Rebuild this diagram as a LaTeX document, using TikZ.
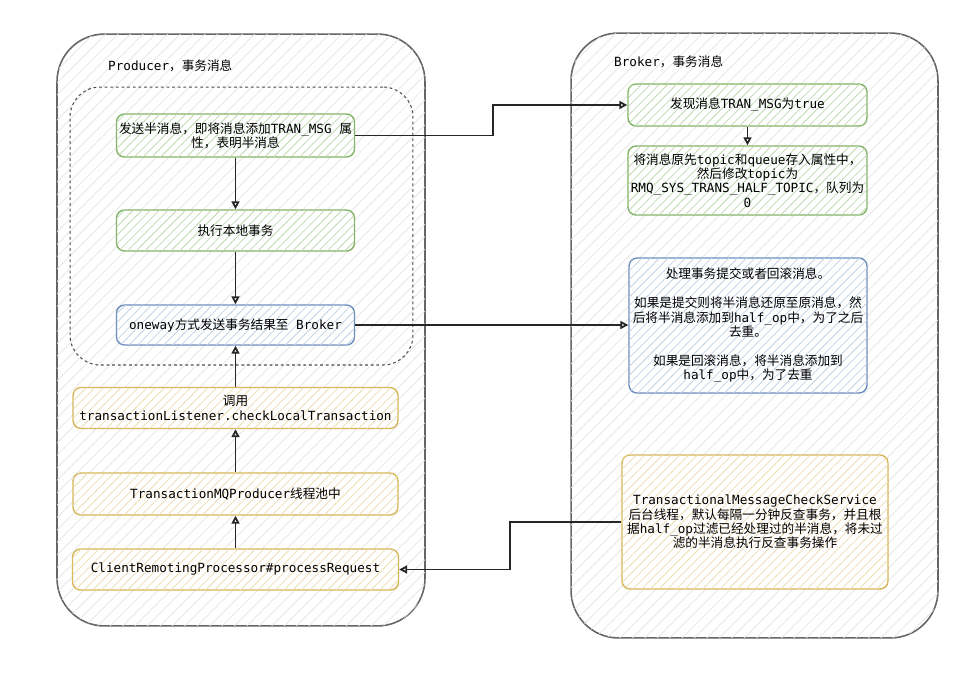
\documentclass[tikz,border=0pt]{standalone}
\usepackage{fontspec}
\setmainfont{DejaVu Sans Mono}
\newfontfamily\cjkfont{Noto Sans CJK SC}
\newcommand{\cn}[1]{{\cjkfont #1}}
\usepackage{xcolor}
\usetikzlibrary{arrows.meta,positioning,patterns.meta}

\definecolor{greenline}{HTML}{82B366}
\definecolor{blueline}{HTML}{6C8EBF}
\definecolor{yellowline}{HTML}{D6B656}
\definecolor{frameline}{HTML}{666666}

\begin{document}
\begin{tikzpicture}[
  x=0.02cm, y=-0.02cm,
  font=\fontsize{7.2}{8.2}\selectfont,
  frame/.style={rectangle, draw=frameline, line width=0.9pt, rounded corners=0.95cm,
    fill=white, postaction={pattern={Lines[angle=45,distance=5pt,line width=0.4pt]},
    pattern color=black!10}},
  stepbox/.style={rectangle, rounded corners=0.16cm, line width=0.8pt, align=center,
    inner sep=1pt, fill=white},
  greenbox/.style={stepbox, draw=greenline, postaction={pattern={Lines[angle=45,distance=3.5pt,line width=0.45pt]},
    pattern color=greenline!50}},
  bluebox/.style={stepbox, draw=blueline, postaction={pattern={Lines[angle=45,distance=3.5pt,line width=0.45pt]},
    pattern color=blueline!40}},
  yellowbox/.style={stepbox, draw=yellowline, postaction={pattern={Lines[angle=45,distance=3.5pt,line width=0.45pt]},
    pattern color=yellowline!45}},
  flow/.style={-{Triangle[open,length=4.5pt,width=4.5pt]}, line width=1pt, black!85}
]
  \useasboundingbox (0,0) rectangle (974,674);

  % the two sides
  \node[frame, minimum width=7.36cm, minimum height=11.84cm] (prod) at (241,330) {};
  \node[frame, minimum width=7.34cm, minimum height=12.10cm] (brok) at (754.5,335.5) {};
  \node[rectangle, draw=black!70, dash pattern=on 1.6pt off 1.6pt, line width=0.6pt,
    rounded corners=0.6cm, minimum width=6.86cm, minimum height=5.56cm] (local) at (241.5,226) {};

  \node[anchor=west] (ptitle) at (102,66) {Producer\cn{，事务消息}};
  \node[anchor=west] (btitle) at (608,62) {Broker\cn{，事务消息}};

  % Producer side
  \node[greenbox, minimum width=4.76cm, minimum height=0.86cm] (half) at (235.5,135.5)
    {\cn{发送半消息，即将消息添加}TRAN\_MSG \cn{属}\\\cn{性，表明半消息}};
  \node[greenbox, minimum width=4.76cm, minimum height=0.82cm] (exec) at (235.5,230.5)
    {\cn{执行本地事务}};
  \node[bluebox, minimum width=4.76cm, minimum height=0.80cm] (oneway) at (235.5,325)
    {oneway\cn{方式发送事务结果至} Broker};
  \node[yellowbox, minimum width=6.50cm, minimum height=0.82cm] (check) at (235.5,408)
    {\cn{调用}\\transactionListener.checkLocalTransaction};
  \node[yellowbox, minimum width=6.50cm, minimum height=0.84cm] (pool) at (235.5,494)
    {TransactionMQProducer\cn{线程池中}};
  \node[yellowbox, minimum width=6.52cm, minimum height=0.82cm] (remote) at (235.5,569.5)
    {ClientRemotingProcessor\#processRequest};

  % Broker side
  \node[greenbox, minimum width=4.78cm, minimum height=0.84cm] (found) at (747.5,105)
    {\cn{发现消息}TRAN\_MSG\cn{为}true};
  \node[greenbox, minimum width=4.78cm, minimum height=1.38cm] (store) at (747.5,180.5)
    {\cn{将消息原先}topic\cn{和}queue\cn{存入属性中，}\\\cn{然后修改}topic\cn{为}\\
     RMQ\_SYS\_TRANS\_HALF\_TOPIC\cn{，队列为}\\0};
  \node[bluebox, minimum width=4.76cm, minimum height=2.70cm] (commit) at (748,325.5)
    {\cn{处理事务提交或者回滚消息。}\\[8.2pt]
     \cn{如果是提交则将半消息还原至原消息，然}\\
     \cn{后将半消息添加到}half\_op\cn{中，为了之后}\\\cn{去重。}\\[8.2pt]
     \cn{如果是回滚消息，将半消息添加到}\\half\_op\cn{中，为了去重}};
  \node[yellowbox, minimum width=5.32cm, minimum height=2.68cm] (service) at (755,522)
    {TransactionalMessageCheckService\\
     \cn{后台线程，默认每隔一分钟反查事务，并且根}\\
     \cn{据}half\_op\cn{过滤已经处理过的半消息，将未过}\\
     \cn{滤的半消息执行反查事务操作}};

  \coordinate (jogA) at (493,0);
  \coordinate (jogB) at (510,0);

  \draw[flow] (half) -- (exec);
  \draw[flow] (exec) -- (oneway);
  \draw[flow] (remote) -- (pool);
  \draw[flow] (pool) -- (check);
  \draw[flow] (check) -- (oneway);
  \draw[flow] (found) -- (store);

  \draw[flow] (half.east) -- (jogA |- half.east) -- (jogA |- found.west) -- (found.west);
  \draw[flow] (oneway.east) -- (oneway.east -| commit.west);
  \draw[flow] (service.west) -- (jogB |- service.west) -- (jogB |- remote.east) -- (remote.east);
\end{tikzpicture}
\end{document}
